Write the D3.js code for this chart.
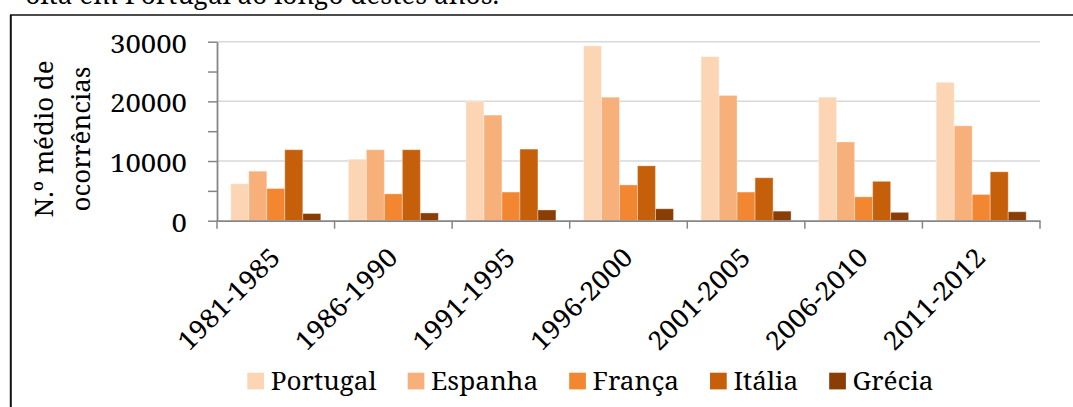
<!DOCTYPE html>
<html>
<head>
<meta charset="utf-8">
<script src="https://cdn.jsdelivr.net/npm/d3@7"></script>
<style>
  html, body { margin: 0; padding: 0; background: #fff; }
  svg { display: block; }
  text { fill: #000; }
</style>
</head>
<body>
<svg id="chart" width="1073" height="407"></svg>
<script>
// Average number of occurrences per period and country
const periods = ["1981-1985", "1986-1990", "1991-1995", "1996-2000", "2001-2005", "2006-2010", "2011-2012"];
const countries = ["Portugal", "Espanha", "França", "Itália", "Grécia"];
const portugal = [6200, 10300, 20000, 29300, 27500, 20700, 23200];
const espanha  = [8300, 11900, 17700, 20700, 21000, 13200, 15900];
const franca   = [5400, 4500, 4800, 6000, 4800, 4000, 4400];
const italia   = [11900, 11900, 12000, 9200, 7200, 6600, 8200];
const grecia   = [1200, 1300, 1800, 2000, 1600, 1400, 1500];
const yTicks = [0, 5000, 10000, 15000, 20000, 25000, 30000];
const colors = ["#fcd5b5", "#f8b07a", "#f38630", "#c65f0a", "#8a3e06"];

const seriesValues = [portugal, espanha, franca, italia, grecia];
const rows = periods.map((p, i) => {
  const r = { period: p };
  countries.forEach((c, k) => { r[c] = seriesValues[k][i]; });
  return r;
});

const svg = d3.select("#chart");
const FS = 26;

// Pick a Times-metric serif face if one is available, else the closest serif
function measure(family, str, size) {
  const t = svg.append("text").style("font-family", family).style("font-size", (size || 100) + "px").text(str);
  const w = t.node().getComputedTextLength();
  t.remove();
  return w;
}
const candidates = ['"Liberation Serif"', 'Tinos', '"Times New Roman"', 'Times', '"Nimbus Roman"',
  '"Nimbus Roman No9 L"', '"TeX Gyre Termes"', 'FreeSerif', '"Noto Serif"'];
const fallbackW = measure('serif', "30000");
let FONT = 'serif';
for (const c of candidates) {
  const w = measure(c + ', serif', "30000");
  if (Math.abs(w - fallbackW) > 1) { FONT = c + ', serif'; break; }
}
svg.style("font-family", FONT);

// Horizontal stretch factors that give each kind of label its set width
const fit = (str, target) => target / measure(FONT, str, FS);
const SX_NUM = fit("30000", 77);
const SX_LEG = fit("Portugal", 106);
const SX_TTL = fit("ocorrências", 145);

const plot = { left: 217, right: 1040, top: 41.7, bottom: 220.7 };

// Caption line running above the frame
svg.append("text")
  .attr("transform", `translate(499,4) scale(${SX_LEG},1)`)
  .attr("text-anchor", "end")
  .style("font-size", FS + "px")
  .text("olta em Portugal ao longo destes anos.");

// Frame (top and left edges)
svg.append("line").attr("x1", 10).attr("x2", 1073).attr("y1", 15).attr("y2", 15)
  .attr("stroke", "#111").attr("stroke-width", 1.6);
svg.append("line").attr("x1", 10.8).attr("x2", 10.8).attr("y1", 15).attr("y2", 407)
  .attr("stroke", "#111").attr("stroke-width", 2);

const x0 = d3.scaleBand().domain(periods).range([plot.left, plot.right]);
const clusterW = 90;
const off = (x0.bandwidth() - clusterW) / 2;
const x1 = d3.scaleBand().domain(countries).range([off, off + clusterW]);
const y = d3.scaleLinear().domain([0, 30000]).range([plot.bottom, plot.top]);

// Horizontal gridlines at labelled ticks
svg.append("g").selectAll("line")
  .data(yTicks.filter(d => d > 0 && d % 10000 === 0))
  .join("line")
  .attr("x1", plot.left).attr("x2", plot.right)
  .attr("y1", d => y(d)).attr("y2", d => y(d))
  .attr("stroke", "#d9d9d9").attr("stroke-width", 1.5);

// Bars
const groups = svg.append("g").selectAll("g")
  .data(rows).join("g")
  .attr("transform", d => `translate(${x0(d.period)},0)`);
groups.selectAll("rect")
  .data(d => countries.map((c, k) => ({ c, k, v: d[c] })))
  .join("rect")
  .attr("x", d => x1(d.c))
  .attr("width", x1.bandwidth())
  .attr("y", d => y(d.v))
  .attr("height", d => y(0) - y(d.v))
  .attr("fill", d => colors[d.k])
  .attr("stroke", "rgba(255,255,255,0.35)")
  .attr("stroke-width", 1);

// Y axis
const yAxis = svg.append("g")
  .attr("transform", `translate(${plot.left},0)`)
  .call(d3.axisLeft(y).tickValues(yTicks).tickSize(9).tickSizeOuter(0)
    .tickFormat(d => d % 10000 === 0 ? d : ""));
yAxis.attr("font-family", null).attr("font-size", null);
yAxis.select(".domain").attr("stroke", "#868686").attr("stroke-width", 1.8);
yAxis.selectAll(".tick line").attr("stroke", "#868686").attr("stroke-width", 1.5);
yAxis.selectAll(".tick text")
  .attr("x", null).attr("dy", null)
  .attr("transform", `translate(-30,10.5) scale(${SX_NUM},1)`)
  .attr("text-anchor", "end")
  .style("font-size", FS + "px").attr("fill", "#000");

// X axis
const xAxis = svg.append("g")
  .attr("transform", `translate(0,${plot.bottom})`)
  .call(d3.axisBottom(x0).tickSize(0).tickSizeOuter(0).tickFormat(""));
xAxis.select(".domain").attr("stroke", "#868686").attr("stroke-width", 1.8);
xAxis.selectAll(".tick").remove();
const edges = periods.map(p => x0(p)).concat([x0(periods[periods.length - 1]) + x0.bandwidth()]);
xAxis.selectAll("line.edge").data(edges).join("line")
  .attr("class", "edge")
  .attr("x1", d => d).attr("x2", d => d).attr("y1", 0).attr("y2", 8)
  .attr("stroke", "#868686").attr("stroke-width", 1.5);

// Rotated period labels
svg.append("g").selectAll("text")
  .data(periods).join("text")
  .attr("transform", d => `translate(${x0(d) + x0.bandwidth() / 2 + 6},259) rotate(-45) scale(${SX_NUM},1)`)
  .attr("text-anchor", "end")
  .style("font-size", FS + "px")
  .text(d => d);

// Y axis title
const title = svg.append("g");
[["N.º médio de", 53], ["ocorrências", 90]].forEach(([t, bx]) => {
  title.append("text")
    .attr("transform", `translate(${bx},139) rotate(-90) scale(${SX_TTL},1)`)
    .attr("text-anchor", "middle")
    .style("font-size", FS + "px")
    .text(t);
});

// Legend
const legend = svg.append("g");
let lx = 247.3;
countries.forEach((c, k) => {
  legend.append("rect")
    .attr("x", lx).attr("y", 372.7).attr("width", 16.7).attr("height", 16.7)
    .attr("fill", colors[k]);
  const t = legend.append("text")
    .attr("transform", `translate(${lx + 23.4},389.5) scale(${SX_LEG},1)`)
    .style("font-size", FS + "px")
    .text(c);
  const w = t.node().getComputedTextLength() * SX_LEG;
  lx += 23.4 + w + 31;
});
</script>
</body>
</html>
